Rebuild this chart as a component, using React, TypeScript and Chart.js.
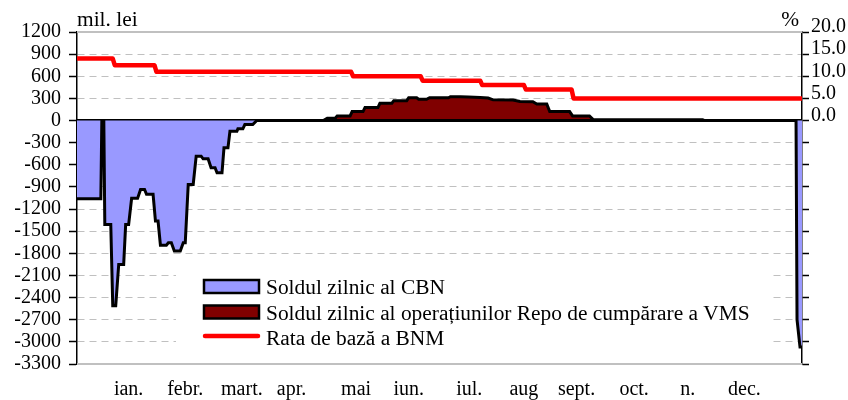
import React, { useEffect, useRef } from "react";
import { Chart, registerables } from "chart.js";

Chart.register(...registerables);

// ---- data ----
const monthLabels = ["ian.", "febr.", "mart.", "apr.", "mai", "iun.", "iul.", "aug", "sept.", "oct.", "n.", "dec."];
const monthTickDays = [26, 54.5, 83, 108, 140.5, 167, 197.5, 225, 251.5, 280.5, 307.5, 336];

const seriesLabels = [
  "Soldul zilnic al CBN",
  "Soldul zilnic al operațiunilor Repo de cumpărare a VMS",
  "Rata de bază a BNM",
];

const cbnDays = [0, 12, 12.5, 13.5, 14, 17, 18, 19.5, 21, 23.5, 24.5, 26, 27.5, 30.5, 32, 34, 35, 38.3, 39.5, 40.8, 42, 45, 46, 47.5, 49, 52, 53.5, 54.5, 56, 58.5, 60, 62.5, 63.5, 66, 67.5, 69.5, 70.5, 73, 74, 76, 77, 80.5, 81, 83.5, 84.5, 88.5, 90.5, 362, 362.5, 364, 365];
const cbnValues = [-1060, -1060, 0, 0, -1410, -1410, -2510, -2510, -1950, -1950, -1410, -1410, -1055, -1055, -934, -934, -1000, -1000, -1362, -1362, -1690, -1690, -1658, -1658, -1768, -1768, -1658, -1658, -866, -866, -483, -483, -519, -519, -640, -640, -708, -708, -370, -370, -145, -145, -113, -113, -54, -54, 0, 0, -2700, -3070, -3070];

const repoDays = [0, 124, 126, 130, 131, 137.5, 138.5, 144, 145, 151.5, 152.5, 158.5, 159.5, 166, 167, 171, 172, 176, 177.5, 187, 188, 193, 197, 203, 207, 209.5, 219.5, 223, 229.5, 231.5, 236.5, 238, 248, 249.5, 258, 260, 315, 316, 365];
const repoValues = [0, 0, 30, 30, 63, 63, 121, 121, 175, 175, 234, 234, 269, 269, 309, 309, 288, 288, 309, 309, 323, 323, 318, 312, 305, 280, 278, 258, 256, 225, 225, 121, 121, 63, 63, 10, 10, 0, 0];

const rateDays = [0, 18, 19, 39, 40, 138, 139, 173, 174, 203, 204, 225, 226, 249, 250, 365];
const rateValues = [14, 14, 12.5, 12.5, 11, 11, 10, 10, 9, 9, 8, 8, 7, 7, 5, 5];

const leftMin = -3300;
const leftMax = 1200;
const leftStep = 300;
const rightMin = -55;
const rightMax = 20;
const rightStep = 5;

const zip = (xs: number[], ys: number[]) => xs.map((x, i) => ({ x, y: ys[i] }));

const FONT = "'Liberation Serif', 'Times New Roman', serif";
const STRETCH = 1.07;

function stretchedText(ctx: CanvasRenderingContext2D, text: string, x: number, y: number, align: "left" | "right") {
  ctx.save();
  ctx.translate(x, y);
  ctx.scale(STRETCH, 1);
  ctx.textAlign = align;
  ctx.fillText(text, 0, 0);
  ctx.restore();
}

const decorPlugin = {
  id: "decor",
  beforeDatasetsDraw(chart: any) {
    const { ctx, chartArea: a, scales } = chart;
    const y = scales.y;
    ctx.save();
    ctx.strokeStyle = "#c0c0c0";
    ctx.lineWidth = 2;
    [y.max, y.min].forEach((v: number) => {
      const py = y.getPixelForValue(v);
      ctx.beginPath();
      ctx.moveTo(a.left, py);
      ctx.lineTo(a.right, py);
      ctx.stroke();
    });
    ctx.restore();
  },
  afterDraw(chart: any) {
    const { ctx, chartArea: a } = chart;
    ctx.save();
    ctx.font = `20px ${FONT}`;
    ctx.fillStyle = "#000";
    ctx.textBaseline = "alphabetic";
    stretchedText(ctx, "mil. lei", a.left, 26, "left");
    stretchedText(ctx, "%", a.right - 3, 26, "right");

    // legend
    ctx.fillStyle = "#fff";
    ctx.fillRect(176, 266, 595, 90);
    const ds = chart.data.datasets;
    const baselines = [294, 319.5, 345];
    ds.forEach((d: any, i: number) => {
      const b = baselines[i];
      if (d.fill) {
        ctx.fillStyle = d.backgroundColor;
        ctx.fillRect(204, b - 14, 55, 13);
        ctx.strokeStyle = "#000";
        ctx.lineWidth = 2.5;
        ctx.strokeRect(204, b - 14, 55, 13);
      } else {
        ctx.strokeStyle = d.borderColor;
        ctx.lineWidth = 4.5;
        ctx.lineCap = "round";
        ctx.beginPath();
        ctx.moveTo(205, b - 9);
        ctx.lineTo(258, b - 9);
        ctx.stroke();
      }
      ctx.fillStyle = "#000";
      stretchedText(ctx, d.label, 266, b, "left");
    });
    ctx.restore();
  },
};

export default function App() {
  const ref = useRef<HTMLCanvasElement>(null);
  useEffect(() => {
    document.body.style.margin = "0";
    Chart.defaults.font.family = FONT;
    Chart.defaults.font.size = 20;
    Chart.defaults.color = "#000";
    const hidden = [0, leftMax, leftMin];
    const chart = new Chart(ref.current as HTMLCanvasElement, {
      type: "line",
      data: {
        datasets: [
          {
            label: seriesLabels[0],
            data: zip(cbnDays, cbnValues),
            borderColor: "#000",
            backgroundColor: "#9999ff",
            borderWidth: 3,
            fill: "origin",
            pointRadius: 0,
            tension: 0,
            yAxisID: "y",
            order: 1,
          },
          {
            label: seriesLabels[1],
            data: zip(repoDays, repoValues),
            borderColor: "#000",
            backgroundColor: "#800000",
            borderWidth: 3,
            fill: "origin",
            pointRadius: 0,
            tension: 0,
            yAxisID: "y",
            order: 2,
          },
          {
            label: seriesLabels[2],
            data: zip(rateDays, rateValues),
            borderColor: "#ff0000",
            backgroundColor: "#ff0000",
            borderWidth: 4.5,
            borderJoinStyle: "round",
            borderCapStyle: "butt",
            fill: false,
            pointRadius: 0,
            tension: 0,
            yAxisID: "y1",
            order: 0,
          },
        ],
      } as any,
      options: {
        responsive: false,
        animation: false,
        devicePixelRatio: 1,
        layout: { padding: { top: 32, left: 0, right: 0, bottom: 0 } },
        plugins: { legend: { display: false }, tooltip: { enabled: false } },
        scales: {
          x: {
            type: "linear",
            min: 0,
            max: 365,
            afterBuildTicks: (s: any) => {
              s.ticks = monthTickDays.map((v) => ({ value: v }));
            },
            ticks: {
              autoSkip: false,
              maxRotation: 0,
              padding: 14,
              callback: (_v: any, i: number) => monthLabels[i],
            },
            grid: { display: false, drawTicks: false },
            border: { display: false },
            afterFit: (s: any) => {
              s.height = 36;
            },
          },
          y: {
            position: "left",
            min: leftMin,
            max: leftMax,
            ticks: {
              stepSize: leftStep,
              autoSkip: false,
              padding: 8,
              callback: (v: any) => String(v),
            },
            grid: {
              color: (c: any) => (c.tick && hidden.includes(c.tick.value) ? "rgba(0,0,0,0)" : "#c0c0c0"),
              lineWidth: 1,
              drawTicks: true,
              tickLength: 8,
              tickColor: "#000",
              tickWidth: 1.5,
            },
            border: { display: true, color: "#000", width: 1.5, dash: [7, 5] },
            afterFit: (s: any) => {
              s.width = 77;
            },
          },
          y1: {
            position: "right",
            min: rightMin,
            max: rightMax,
            ticks: {
              stepSize: rightStep,
              autoSkip: false,
              padding: 2,
              labelOffset: -5,
              callback: (v: any) => (v >= 0 ? Number(v).toFixed(1) : ""),
            },
            grid: {
              drawOnChartArea: false,
              drawTicks: true,
              tickLength: 7,
              tickColor: "#000",
              tickWidth: 1.5,
            },
            border: { display: true, color: "#000", width: 1.5 },
            afterFit: (s: any) => {
              s.width = 46;
            },
          },
        },
      } as any,
      plugins: [decorPlugin],
    });
    return () => chart.destroy();
  }, []);
  return (
    <div style={{ width: 848, height: 400 }}>
      <canvas ref={ref} width={848} height={400} style={{ display: "block" }} />
    </div>
  );
}
